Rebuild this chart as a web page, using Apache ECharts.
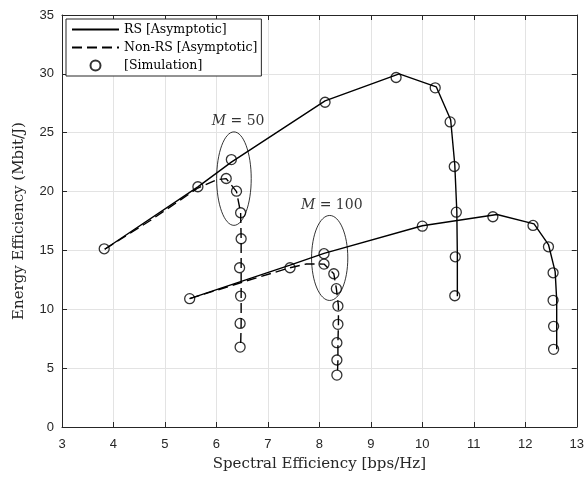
<!DOCTYPE html>
<html>
<head>
<meta charset="utf-8">
<script src="https://cdn.jsdelivr.net/npm/echarts@6/dist/echarts.min.js"></script>
<style>
  html, body { margin: 0; padding: 0; background: #fff; }
  #chart { width: 587px; height: 477px; }
</style>
</head>
<body>
<div id="chart"></div>
<script>
// asymptotic curves, [spectral efficiency, energy efficiency]
const rs50 = [[3.83, 15.1], [5.64, 20.4], [6.29, 22.5], [8.11, 27.7], [9.55, 30.0], [10.27, 28.9],
    [10.55, 26.1], [10.63, 22.3], [10.67, 18.3], [10.68, 14.5], [10.68, 11.1]];
const nonRs50 = [[3.83, 15.1], [4.7, 17.5], [5.64, 20.3], [6.0, 21.0], [6.19, 21.1], [6.39, 20.0],
    [6.47, 18.2], [6.48, 16.0], [6.48, 13.5], [6.48, 11.1], [6.48, 8.8], [6.47, 6.8]];
const rs100 = [[5.48, 10.9], [7.43, 13.75], [8.09, 14.75], [10.0, 17.1], [11.45, 18.05], [12.17, 17.25],
    [12.45, 15.5], [12.58, 13.2], [12.61, 10.8], [12.61, 8.5], [12.61, 6.6]];
const nonRs100 = [[5.48, 10.9], [6.5, 12.3], [7.43, 13.53], [7.75, 13.85], [8.09, 13.84], [8.28, 13.02],
    [8.33, 11.75], [8.37, 10.27], [8.37, 8.72], [8.36, 7.16], [8.36, 5.69], [8.35, 4.41]];

// simulation points
const sim50 = [[3.82, 15.14], [5.64, 20.41], [6.29, 22.72], [6.19, 21.11], [6.39, 20.03], [6.47, 18.2],
    [6.48, 15.99], [6.45, 13.53], [6.47, 11.12], [6.46, 8.8], [6.46, 6.79], [8.11, 27.59], [9.49, 29.69],
    [10.25, 28.81], [10.54, 25.92], [10.62, 22.13], [10.66, 18.25], [10.64, 14.46], [10.63, 11.15]];
const sim100 = [[5.48, 10.9], [7.43, 13.53], [8.09, 14.72], [8.09, 13.84], [8.28, 13.02], [8.33, 11.75],
    [8.36, 10.27], [8.36, 8.72], [8.34, 7.16], [8.34, 5.69], [8.34, 4.41], [10.0, 17.06], [11.37, 17.86],
    [12.15, 17.12], [12.45, 15.31], [12.54, 13.1], [12.54, 10.76], [12.55, 8.55], [12.55, 6.6]];

// annotations: ellipse [cx, cy, rx, ry] and label [x, y, M]
const ellipses = [[6.34, 21.1, 0.336, 3.97], [8.2, 14.36, 0.352, 3.61]];
const mLabels = [[6.42, 25.95, '50'], [8.24, 18.82, '100']];

const legendNames = ['RS [Asymptotic]', 'Non-RS [Asymptotic]', '[Simulation]'];

const serif = '"DejaVu Serif", "Liberation Serif", serif';
const sans = '"Liberation Sans", Arial, sans-serif';
const axisColor = '#262626';

var chart = echarts.init(document.getElementById('chart'), null, { renderer: 'canvas' });

function curve(name, data, dashed) {
    return {
        name: name,
        type: 'line',
        data: data,
        symbol: 'none',
        showSymbol: false,
        silent: true,
        lineStyle: { color: '#000', width: 1.4, type: dashed ? [10, 5] : 'solid' },
        itemStyle: { color: '#000' },
        z: 2
    };
}

function sim(data) {
    return {
        name: legendNames[2],
        type: 'scatter',
        data: data,
        symbol: 'circle',
        symbolSize: 10,
        itemStyle: { color: 'rgba(0,0,0,0)', borderColor: '#000', borderWidth: 1.3 },
        z: 3
    };
}

chart.setOption({
    animation: false,
    grid: { left: 62, right: 5, top: 15, bottom: 49, containLabel: false },
    legend: {
        orient: 'vertical',
        left: 66,
        top: 19,
        padding: [4, 4, 4, 5],
        itemWidth: 47,
        itemHeight: 10,
        itemGap: 5,
        backgroundColor: '#fff',
        borderColor: axisColor,
        borderWidth: 1,
        borderRadius: 0,
        data: [
            // line icons only, no marker
            { name: legendNames[0], itemStyle: { opacity: 0 } },
            { name: legendNames[1], itemStyle: { opacity: 0 } },
            { name: legendNames[2] }
        ],
        textStyle: { fontFamily: serif, fontSize: 12.5, color: '#000' }
    },
    xAxis: [{
        type: 'value',
        min: 3, max: 13, interval: 1,
        name: 'Spectral Efficiency [bps/Hz]',
        nameLocation: 'middle',
        nameGap: 30,
        nameTextStyle: { fontFamily: serif, fontSize: 15, color: axisColor },
        axisLine: { lineStyle: { color: axisColor, width: 1 } },
        axisTick: { inside: true, length: 5, lineStyle: { color: axisColor } },
        axisLabel: { fontFamily: sans, fontSize: 13, color: axisColor, margin: 11 },
        splitLine: { show: true, lineStyle: { color: '#e3e3e3', width: 1 } }
    }, {
        type: 'value',
        position: 'top',
        min: 3, max: 13, interval: 1,
        axisLine: { show: true, onZero: false, lineStyle: { color: axisColor, width: 1 } },
        axisTick: { inside: true, length: 5, lineStyle: { color: axisColor } },
        axisLabel: { show: false },
        splitLine: { show: false }
    }],
    yAxis: [{
        type: 'value',
        min: 0, max: 35, interval: 5,
        name: 'Energy Efficiency (Mbit/J)',
        nameLocation: 'middle',
        nameGap: 35,
        nameTextStyle: { fontFamily: serif, fontSize: 15, color: axisColor },
        axisLine: { show: true, lineStyle: { color: axisColor, width: 1 } },
        axisTick: { show: true, inside: true, length: 5, lineStyle: { color: axisColor } },
        axisLabel: { fontFamily: sans, fontSize: 13, color: axisColor, margin: 8 },
        splitLine: { show: true, lineStyle: { color: '#e3e3e3', width: 1 } }
    }, {
        type: 'value',
        position: 'right',
        min: 0, max: 35, interval: 5,
        axisLine: { show: true, onZero: false, lineStyle: { color: axisColor, width: 1 } },
        axisTick: { show: true, inside: true, length: 5, lineStyle: { color: axisColor } },
        axisLabel: { show: false },
        splitLine: { show: false }
    }],
    series: [
        curve(legendNames[0], rs50, false),
        curve(legendNames[0], rs100, false),
        curve(legendNames[1], nonRs50, true),
        curve(legendNames[1], nonRs100, true),
        sim(sim50),
        sim(sim100),
        {
            // ellipses around the RS / non-RS split points
            type: 'custom',
            silent: true,
            data: ellipses,
            renderItem: function (params, api) {
                var c = api.coord([api.value(0), api.value(1)]);
                var s = api.size([api.value(2), api.value(3)]);
                return {
                    type: 'ellipse',
                    shape: { cx: c[0], cy: c[1], rx: s[0], ry: s[1] },
                    style: { fill: 'none', stroke: '#000', lineWidth: 0.8 }
                };
            },
            z: 1
        },
        {
            type: 'scatter',
            silent: true,
            symbolSize: 0,
            data: mLabels,
            label: {
                show: true,
                position: 'inside',
                formatter: function (p) { return '{i|M} = ' + p.value[2]; },
                fontFamily: serif,
                fontSize: 14,
                color: '#000',
                rich: { i: { fontFamily: serif, fontStyle: 'italic', fontSize: 14, color: '#000' } }
            },
            z: 4
        }
    ]
});
</script>
</body>
</html>
